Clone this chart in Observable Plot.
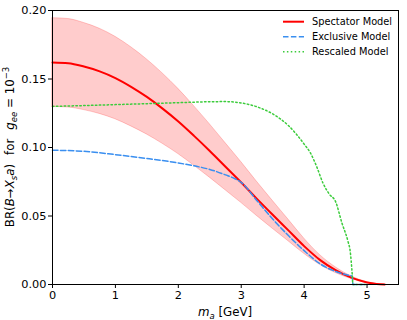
<!DOCTYPE html>
<html><head><meta charset="utf-8">
<script src="https://cdn.jsdelivr.net/npm/d3@7"></script>
<script src="https://cdn.jsdelivr.net/npm/@observablehq/plot@0.6"></script>
<style>body{margin:0;background:#fff} svg{font-family:"DejaVu Sans",sans-serif}</style>
</head><body><div id="chart"></div><script>
// Spectator model (central) with ±band
const specM  = [0, 0.25, 0.5, 0.75, 1, 1.25, 1.5, 1.75, 2, 2.25, 2.5, 2.75, 3, 3.25, 3.5, 3.75, 4, 4.25, 4.5, 4.75, 5, 5.15, 5.28];
const specV  = [0.162, 0.1615, 0.1591, 0.1556, 0.1507, 0.1443, 0.1369, 0.1284, 0.1190, 0.1085, 0.0975, 0.0860, 0.0745, 0.0625, 0.0509, 0.0395, 0.0280, 0.0180, 0.0105, 0.0050, 0.0015, 0.0004, 0];
const specHi = [0.1944, 0.1938, 0.1909, 0.1867, 0.1808, 0.1732, 0.1643, 0.1541, 0.1428, 0.1302, 0.1170, 0.1032, 0.0894, 0.0750, 0.0611, 0.0474, 0.0336, 0.0216, 0.0126, 0.0060, 0.0018, 0.0005, 0];
const specLo = [0.1296, 0.1292, 0.1273, 0.1245, 0.1206, 0.1154, 0.1095, 0.1027, 0.0952, 0.0868, 0.0780, 0.0688, 0.0596, 0.0500, 0.0407, 0.0316, 0.0224, 0.0144, 0.0084, 0.0040, 0.0012, 0.0003, 0];
// Exclusive model
const exclM = [0, 0.5, 1, 1.5, 2, 2.25, 2.5, 2.75, 2.9, 3, 3.25, 3.5, 3.75, 4, 4.25, 4.5, 4.7, 4.765, 4.775, 5.0];
const exclV = [0.098, 0.0972, 0.0948, 0.0920, 0.0887, 0.0866, 0.0840, 0.0800, 0.0772, 0.0745, 0.0612, 0.0478, 0.0357, 0.0247, 0.0152, 0.0095, 0.0068, 0.0062, 0, 0];
// Rescaled model
const rescM = [0, 0.5, 1, 1.5, 2, 2.5, 2.75, 3, 3.25, 3.5, 3.75, 4, 4.1, 4.2, 4.3, 4.4, 4.5, 4.6, 4.7, 4.73, 4.765, 4.775, 5.0];
const rescV = [0.130, 0.1306, 0.1313, 0.1320, 0.1327, 0.1334, 0.1335, 0.1325, 0.1297, 0.1245, 0.1160, 0.1025, 0.0960, 0.0860, 0.0740, 0.0660, 0.0605, 0.0450, 0.0310, 0.0250, 0.0070, 0, 0];

const xTicks = [0, 1, 2, 3, 4, 5];
const yTicks = [0, 0.05, 0.10, 0.15, 0.20];
const seriesNames = ["Spectator Model", "Exclusive Model", "Rescaled Model"];
const seriesColors = ["#ff0000", "#3a8ff0", "#3ccc3c"];
const seriesDash = [null, "5.5,2.4", "1.5,2.4"];

const band = specM.map((m, i) => ({m, lo: specLo[i], hi: specHi[i]}));
const spec = specM.map((m, i) => ({m, v: specV[i]}));
const excl = exclM.map((m, i) => ({m, v: exclV[i]}));
const resc = rescM.map((m, i) => ({m, v: rescV[i]}));

const plot = Plot.plot({
  width: 407, height: 320,
  marginLeft: 52, marginRight: 9, marginTop: 10, marginBottom: 36,
  style: {fontFamily: "DejaVu Sans", fontSize: "11.3px", color: "black", background: "white", overflow: "visible"},
  x: {domain: [0, 5.5], ticks: xTicks, tickFormat: d => String(d), tickSize: 4, tickPadding: 2, label: null},
  y: {domain: [0, 0.2], ticks: yTicks, tickFormat: d3.format(".2f"), tickSize: 4, tickPadding: 2, label: null},
  marks: [
    Plot.areaY(band, {x: "m", y1: "lo", y2: "hi", fill: "red", fillOpacity: 0.2, stroke: "red", strokeOpacity: 0.2, curve: "monotone-x"}),
    Plot.lineY(spec, {x: "m", y: "v", stroke: seriesColors[0], strokeWidth: 2, curve: "monotone-x"}),
    Plot.lineY(excl, {x: "m", y: "v", stroke: seriesColors[1], strokeWidth: 1.5, strokeDasharray: seriesDash[1], curve: "monotone-x"}),
    Plot.lineY(resc, {x: "m", y: "v", stroke: seriesColors[2], strokeWidth: 1.5, strokeDasharray: seriesDash[2], curve: "monotone-x"}),
    Plot.frame({stroke: "black", strokeWidth: 1})
  ]
});

const svg = d3.select(plot);
// x label
const xl = svg.append("text").attr("x", 225).attr("y", 316).attr("text-anchor", "middle")
  .attr("font-size", "11.8px").attr("fill", "black");
xl.append("tspan").attr("font-style", "italic").text("m");
xl.append("tspan").attr("font-style", "italic").attr("font-size", "8.5px").attr("dy", "2.5").text("a");
xl.append("tspan").attr("dy", "-2.5").text(" [GeV]");

// y label
const yl = svg.append("text").attr("transform", "translate(14,147) rotate(-90)")
  .attr("text-anchor", "middle").attr("font-size", "11.8px").attr("fill", "black");
yl.append("tspan").text("BR(");
yl.append("tspan").attr("font-style", "italic").text("B");
yl.append("tspan").text("→");
yl.append("tspan").attr("font-style", "italic").text("X");
yl.append("tspan").attr("font-style", "italic").attr("font-size", "8.5px").attr("dy", "2.5").text("s");
yl.append("tspan").attr("font-style", "italic").attr("dy", "-2.5").text("a");
yl.append("tspan").text(")");
yl.append("tspan").attr("dx", "9").text("for");
yl.append("tspan").attr("dx", "9").attr("font-style", "italic").text("g");
yl.append("tspan").attr("font-style", "italic").attr("font-size", "8.5px").attr("dy", "2.5").text("ee");
yl.append("tspan").attr("dy", "-2.5").text(" = 10");
yl.append("tspan").attr("font-size", "8.5px").attr("dy", "-5").text("−3");

// legend
const lg = svg.append("g").attr("text-anchor", "start");
seriesNames.forEach((name, i) => {
  const y = 21.7 + i * 15;
  const ln = lg.append("line").attr("x1", 283).attr("x2", 304).attr("y1", y).attr("y2", y)
    .attr("stroke", seriesColors[i]).attr("stroke-width", i === 0 ? 2 : 1.5);
  if (seriesDash[i]) ln.attr("stroke-dasharray", seriesDash[i]);
  lg.append("text").attr("x", 312).attr("y", y).attr("dy", "0.35em").attr("text-anchor", "start")
    .attr("font-size", "9.8px").attr("fill", "black").text(name);
});

document.getElementById("chart").appendChild(plot);
</script></body></html>
